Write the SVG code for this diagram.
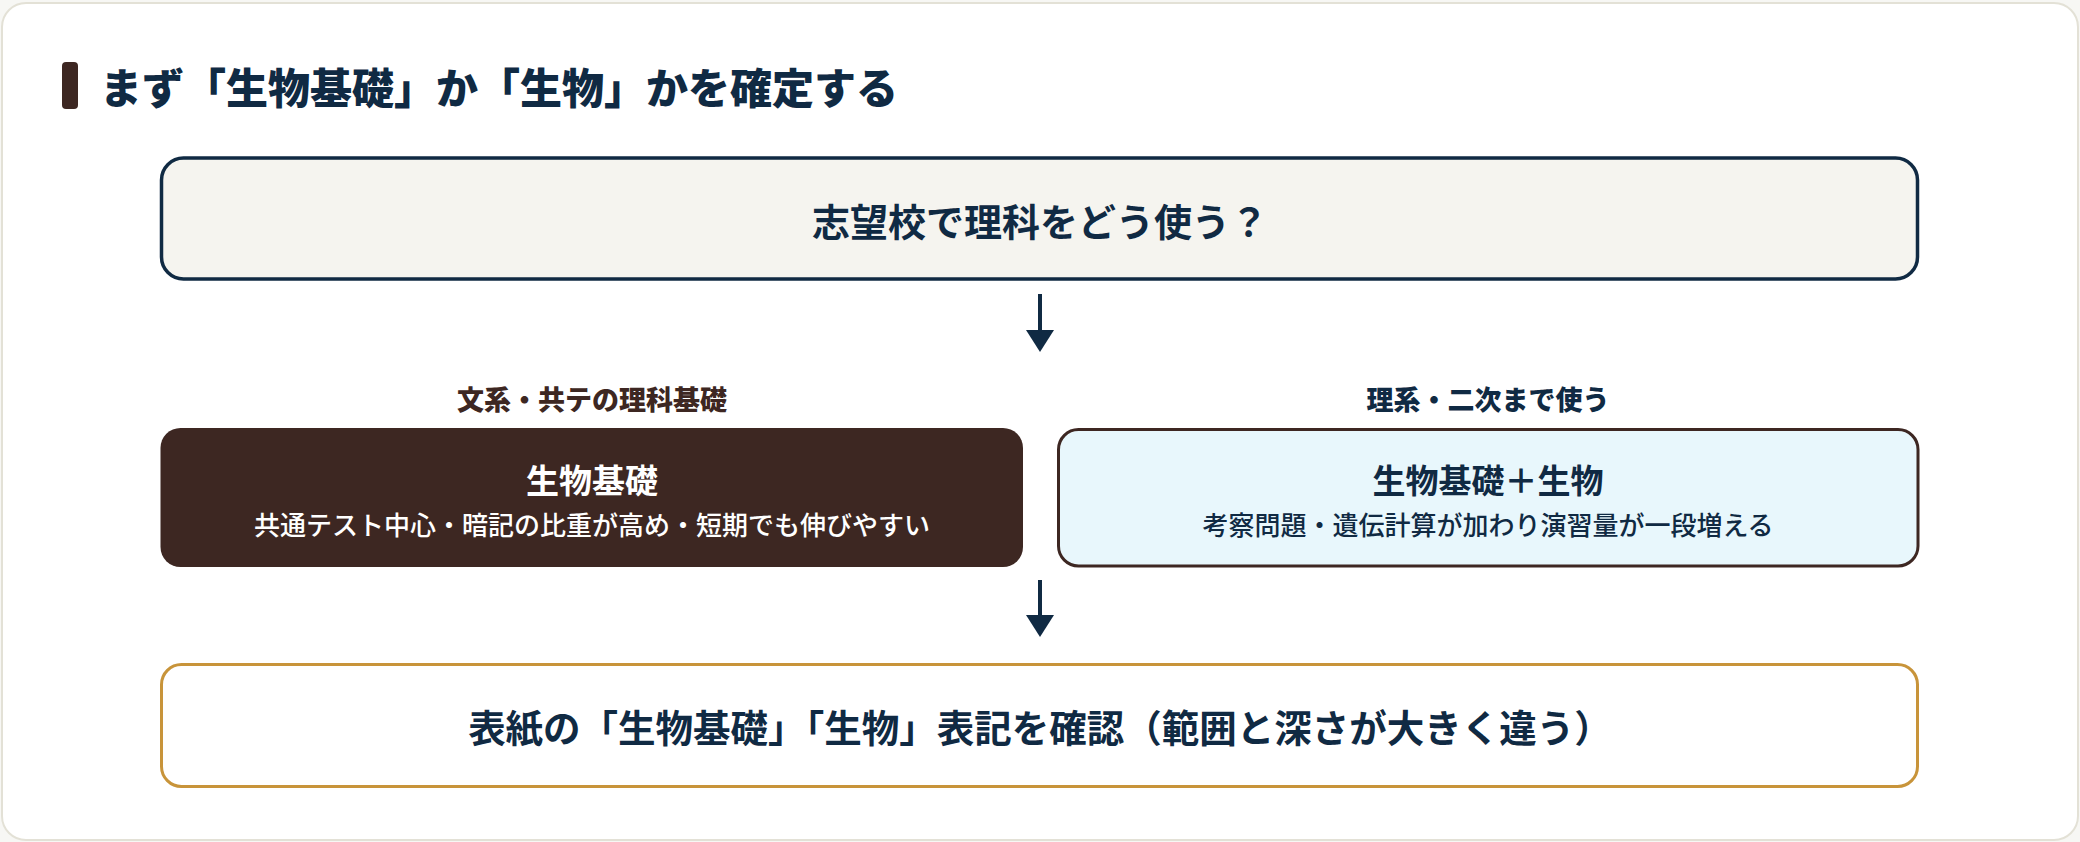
<svg xmlns="http://www.w3.org/2000/svg" width="2080" height="842" viewBox="0 0 2080 842">
  <style>
    text { font-family: "Noto Sans CJK JP", "Noto Sans", sans-serif; text-anchor: middle; }
    .navy { fill: #102a43; }
    .brown { fill: #3d2722; }
    .white { fill: #ffffff; }
    .b { font-weight: 700; }
    .x { font-weight: 800; }
    .m { font-weight: 500; }
    .conn { stroke: #102a43; stroke-width: 4; fill: none; }
  </style>
  <defs>
    <marker id="arr" markerUnits="userSpaceOnUse" markerWidth="22" markerHeight="28" viewBox="0 0 22 28" refX="10" refY="14" orient="auto">
      <path d="M0,0 L22,14 L0,28 Z" fill="#102a43"/>
    </marker>
  </defs>
  <rect x="0" y="0" width="2080" height="842" fill="#f7f7f4"/>
  <rect id="card" x="2" y="3" width="2076" height="837" rx="24" fill="#ffffff" stroke="#e3e1d6" stroke-width="2"/>
  <g id="title">
    <rect x="62" y="62" width="16" height="47" rx="4" fill="#3d2722"/>
    <text x="100" y="104" class="navy x" font-size="42" style="text-anchor:start">まず「生物基礎」か「生物」かを確定する</text>
  </g>
  <g id="connectors">
    <line class="conn" x1="1040" y1="294" x2="1040" y2="340" marker-end="url(#arr)"/>
    <line class="conn" x1="1040" y1="580" x2="1040" y2="625" marker-end="url(#arr)"/>
  </g>
  <g id="q">
    <rect x="161.5" y="158" width="1756" height="121" rx="22" fill="#f5f4ef" stroke="#102a43" stroke-width="3.5"/>
    <text x="1040" y="236" class="navy b" font-size="38">志望校で理科をどう使う？</text>
  </g>
  <g id="label-left">
    <text x="592" y="410" class="brown x" font-size="27">文系・共テの理科基礎</text>
  </g>
  <g id="label-right">
    <text x="1488" y="410" class="navy x" font-size="27">理系・二次まで使う</text>
  </g>
  <g id="kiso">
    <rect x="160.5" y="428" width="862.5" height="139" rx="20" fill="#3d2722"/>
    <text x="592" y="493" class="white b" font-size="33">生物基礎</text>
    <text x="592" y="535" class="white m" font-size="26">共通テスト中心・暗記の比重が高め・短期でも伸びやすい</text>
  </g>
  <g id="seibutsu">
    <rect x="1058.5" y="429.5" width="859.5" height="136.5" rx="20" fill="#e8f7fc" stroke="#3d2722" stroke-width="3"/>
    <text x="1488" y="493" class="navy b" font-size="33">生物基礎＋生物</text>
    <text x="1488" y="535" class="navy m" font-size="26">考察問題・遺伝計算が加わり演習量が一段増える</text>
  </g>
  <g id="check">
    <rect x="161.5" y="664.5" width="1756" height="122" rx="20" fill="#ffffff" stroke="#c8943a" stroke-width="3"/>
    <text x="1040" y="742" class="navy b" font-size="37.5">表紙の「生物基礎」「生物」表記を確認（範囲と深さが大きく違う）</text>
  </g>
</svg>
